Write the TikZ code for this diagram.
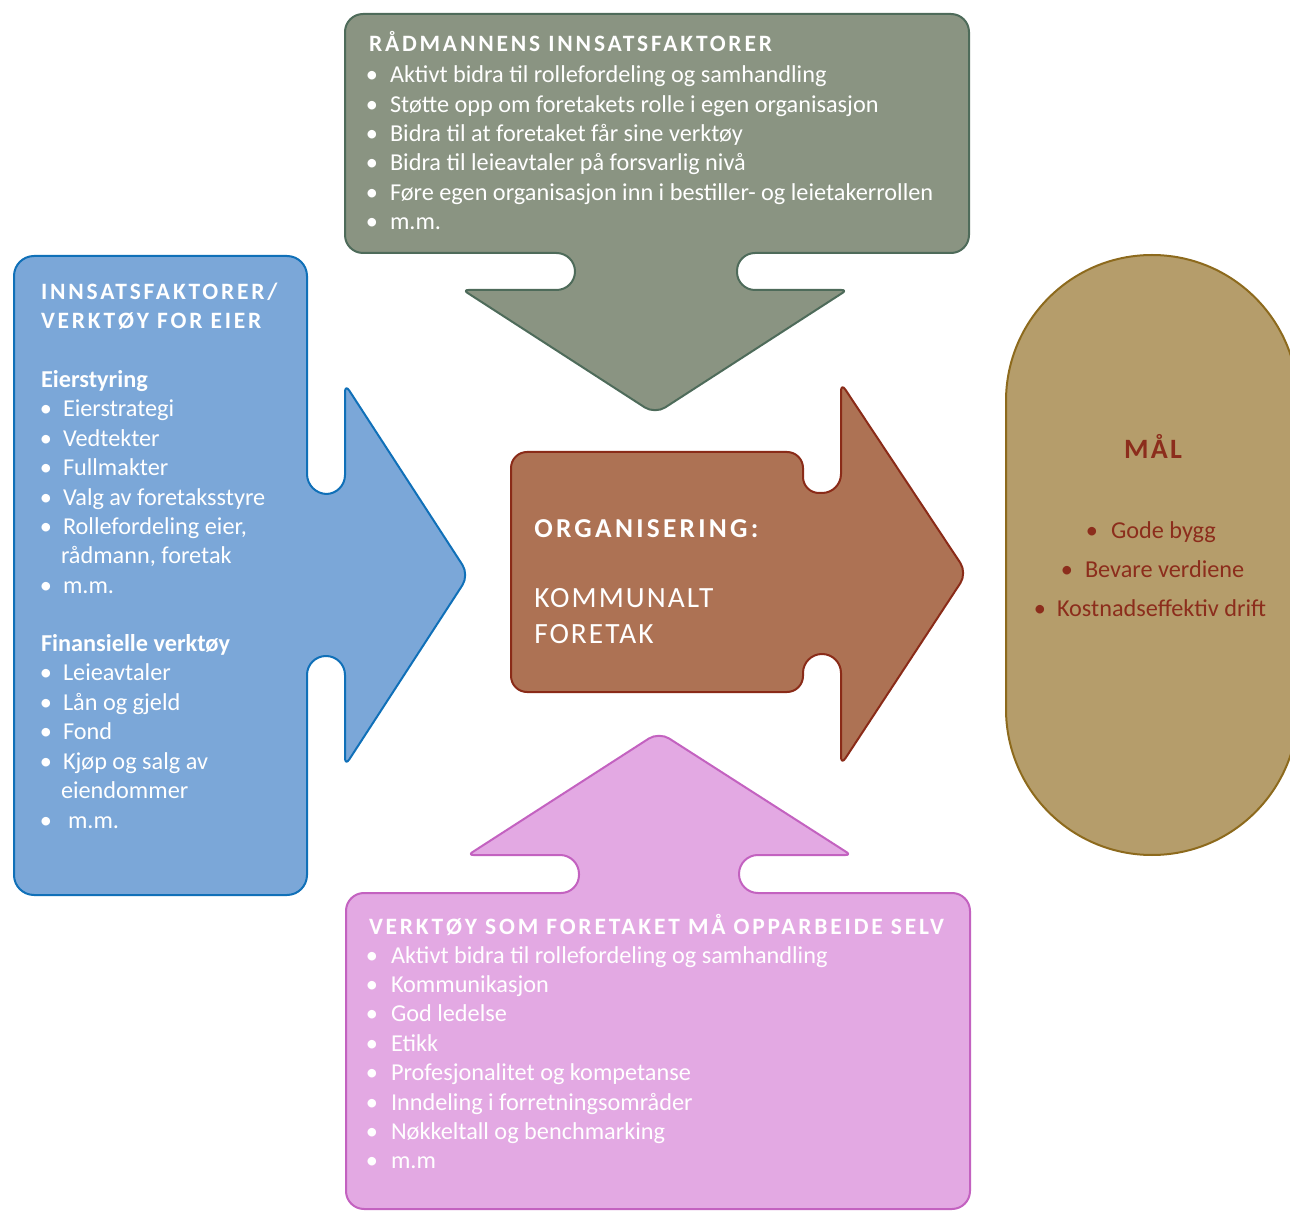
\documentclass[tikz,border=0pt]{standalone}
\usepackage{fontspec}
\setmainfont{Carlito}
\definecolor{gfill}{HTML}{8A9482}
\definecolor{gdraw}{HTML}{4E6B5A}
\definecolor{bfill}{HTML}{7BA7D8}
\definecolor{bdraw}{HTML}{1070B8}
\definecolor{rfill}{HTML}{AD7254}
\definecolor{rdraw}{HTML}{8A2B18}
\definecolor{pfill}{HTML}{E3A9E3}
\definecolor{pdraw}{HTML}{C362C0}
\definecolor{tfill}{HTML}{B59D6B}
\definecolor{tdraw}{HTML}{8D6A1D}
\definecolor{ttext}{HTML}{8C2D1C}
\newcommand\bodyfont{\fontsize{18.2}{22}\selectfont}
\newcommand\headfont{\fontsize{17.6}{20}\selectfont\bfseries\addfontfeatures{LetterSpace=12}}
\newcommand\subfont{\fontsize{18.2}{22}\selectfont\bfseries}
\begin{document}
\begin{tikzpicture}[x=0.75pt,y=-0.75pt,
  shp/.style={line width=1.5pt, line join=round},
  greenshape/.style={shp, fill=gfill, draw=gdraw},
  blueshape/.style={shp, fill=bfill, draw=bdraw},
  brownshape/.style={shp, fill=rfill, draw=rdraw},
  pinkshape/.style={shp, fill=pfill, draw=pdraw},
  tanshape/.style={shp, fill=tfill, draw=tdraw},
  body/.style={anchor=base west, inner sep=0pt, outer sep=0pt, text=white, font=\bodyfont},
  bul/.style={anchor=base, inner sep=0pt, outer sep=0pt, text=white, font=\bodyfont},
  head/.style={anchor=base west, inner sep=0pt, outer sep=0pt, text=white, font=\headfont},
  sub/.style={anchor=base west, inner sep=0pt, outer sep=0pt, text=white, font=\subfont}]
\useasboundingbox (0,0) rectangle (1290,1212);

% tan pill
\draw[tanshape, rounded corners=109.5pt] (1006,255) rectangle (1298,855);

% green top shape
\draw[greenshape, rounded corners=13.5pt] (345,14) -- (969,14) -- (969,253) -- (737,253) -- (737,290)
  [rounded corners=4pt] -- (847,290) [rounded corners=9pt] -- (655,414) [rounded corners=4pt] -- (463,290)
  [rounded corners=13.9pt] -- (575,290) -- (575,253) [rounded corners=13.5pt] -- (345,253) -- cycle;

% blue left shape
\draw[blueshape, rounded corners=15pt] (14,256) -- (307,256) -- (307,494) [rounded corners=14.25pt] -- (345,494)
  [rounded corners=6pt] -- (345,384) [rounded corners=9pt] -- (469,575) [rounded corners=6pt] -- (345,766)
  [rounded corners=14.25pt] -- (345,656) -- (307,656) [rounded corners=15pt] -- (307,895) -- (14,895) -- cycle;

% brown centre shape
\draw[brownshape, rounded corners=12pt] (511,452) -- (803,452) -- (803,493) [rounded corners=14.25pt] -- (841,493)
  [rounded corners=6pt] -- (841,383) [rounded corners=9pt] -- (967,573) [rounded corners=6pt] -- (841,765)
  [rounded corners=14.25pt] -- (841,654) -- (803,654) [rounded corners=12pt] -- (803,692) -- (511,692) -- cycle;

% pink bottom shape
\draw[pinkshape, rounded corners=13.5pt] (346,1209) -- (346,893) -- (579,893) [rounded corners=14.25pt] -- (579,855)
  [rounded corners=4pt] -- (468,855) [rounded corners=9pt] -- (659,732) [rounded corners=4pt] -- (851,855)
  [rounded corners=14.25pt] -- (739,855) -- (739,893) [rounded corners=13.5pt] -- (970,893) -- (970,1209) -- cycle;

% green texts
\node[head] (gt) at (369,52) {RÅDMANNENS INNSATSFAKTORER};
\foreach \t [count=\i] in {Aktivt bidra til rollefordeling og samhandling,
  Støtte opp om foretakets rolle i egen organisasjon,
  Bidra til at foretaket får sine verktøy,
  Bidra til leieavtaler på forsvarlig nivå,
  Føre egen organisasjon inn i bestiller- og leietakerrollen,
  m.m.}{
  \node[bul] (gb\i) at (372,{83+29.3*(\i-1)}) {•};
  \node[body] (g\i) at (390,{83+29.3*(\i-1)}) {\t};
}

% pink texts
\node[head] (pt) at (369,934) {VERKTØY SOM FORETAKET MÅ OPPARBEIDE SELV};
\foreach \t [count=\i] in {Aktivt bidra til rollefordeling og samhandling,
  Kommunikasjon, God ledelse, Etikk, Profesjonalitet og kompetanse,
  Inndeling i forretningsområder, Nøkkeltall og benchmarking, m.m}{
  \node[bul] (pb\i) at (372,{963+29.4*(\i-1)}) {•};
  \node[body] (p\i) at (391,{963+29.4*(\i-1)}) {\t};
}

% blue texts
\node[head] (bt1) at (41,300) {INNSATSFAKTORER/};
\node[head] (bt2) at (41,329) {VERKTØY FOR EIER};
\node[sub] (bs1) at (41,388) {Eierstyring};
\foreach \t/\y [count=\i] in {Eierstrategi/417, Vedtekter/446.4, Fullmakter/475.8,
  Valg av foretaksstyre/505.2, {Rollefordeling eier,}/534.6}{
  \node[bul] (bb\i) at (46,\y) {•};
  \node[body] (b\i) at (63,\y) {\t};
}
\node[body] (b6) at (61,564) {rådmann, foretak};
\node[bul] (bb7) at (46,593.4) {•};
\node[body] (b7) at (63,593.4) {m.m.};
\node[sub] (bs2) at (41,651.5) {Finansielle verktøy};
\foreach \t/\y [count=\i from 8] in {Leieavtaler/681, Lån og gjeld/710.4, Fond/739.8, Kjøp og salg av/769.2}{
  \node[bul] (bb\i) at (46,\y) {•};
  \node[body] (b\i) at (63,\y) {\t};
}
\node[body] (b12) at (61,798.6) {eiendommer};
\node[bul] (bb13) at (46,828) {•};
\node[body] (b13) at (68,828) {m.m.};

% brown texts
\node[anchor=base west, inner sep=0pt, text=white,
  font=\fontsize{20.5}{24}\selectfont\bfseries\addfontfeatures{LetterSpace=12}] (org) at (534,538) {ORGANISERING:};
\node[anchor=base west, inner sep=0pt, text=white,
  font=\fontsize{22}{26}\selectfont\addfontfeatures{LetterSpace=7}] (kom) at (534,608) {KOMMUNALT};
\node[anchor=base west, inner sep=0pt, text=white,
  font=\fontsize{22}{26}\selectfont\addfontfeatures{LetterSpace=7}] (for) at (534,643) {FORETAK};

% tan texts
\node[anchor=base, inner sep=0pt, text=ttext,
  font=\fontsize{21}{24}\selectfont\bfseries\addfontfeatures{LetterSpace=8}] (mal) at (1153,458.5) {MÅL};
\node[bul, text=ttext] (tb1) at (1092,539) {•};
\node[body, text=ttext] (t1) at (1111,539) {Gode bygg};
\node[bul, text=ttext] (tb2) at (1067,578) {•};
\node[body, text=ttext] (t2) at (1085,578) {Bevare verdiene};
\node[bul, text=ttext] (tb3) at (1040,617) {•};
\node[body, text=ttext] (t3) at (1057,617) {Kostnadseffektiv drift};
\end{tikzpicture}
\end{document}
